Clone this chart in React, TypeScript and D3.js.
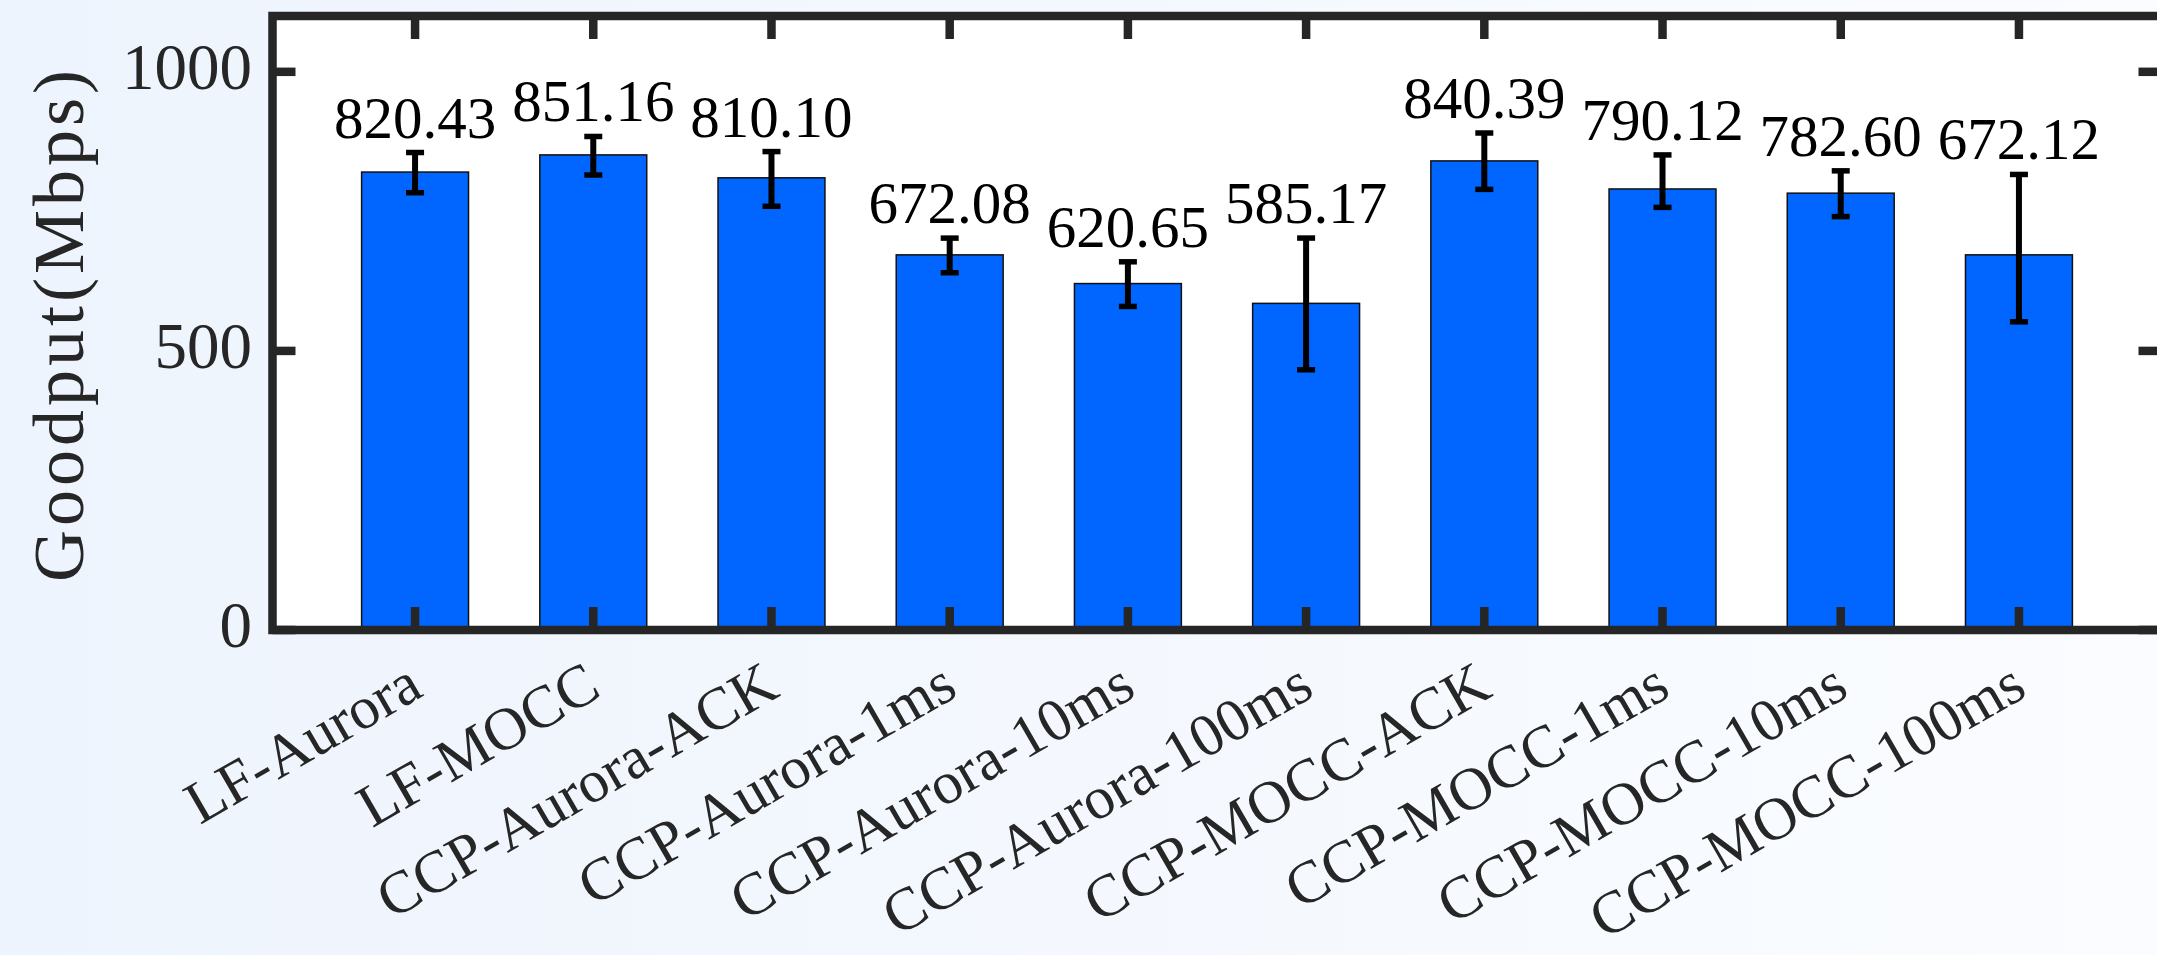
import React from 'react';
import { scaleLinear } from 'd3';

// bar categories, left to right
const categories = [
  'LF-Aurora',
  'LF-MOCC',
  'CCP-Aurora-ACK',
  'CCP-Aurora-1ms',
  'CCP-Aurora-10ms',
  'CCP-Aurora-100ms',
  'CCP-MOCC-ACK',
  'CCP-MOCC-1ms',
  'CCP-MOCC-10ms',
  'CCP-MOCC-100ms',
];
const goodput = [820.43, 851.16, 810.1, 672.08, 620.65, 585.17, 840.39, 790.12, 782.6, 672.12];
// error bar extents above / below the mean
const errUp = [35, 33, 47, 30, 39, 117, 50, 61, 40, 144];
const errDown = [37, 36, 51, 32, 41, 119, 51, 33, 42, 120];
const yTicks = [0, 500, 1000];
const yTickLabels = ['0', '500', '1000'];

const W = 2157;
const H = 955;
const frameColor = '#262626';
const barColor = '#0066ff';
const serifFont = "'Liberation Serif', 'DejaVu Serif', serif";
const serifStyle = { fontFamily: serifFont };

const xLabelSize = 60;
const xLabelY = 695;

// width of a label at the tick font, so long ones can be kept inside the page
let ctx: CanvasRenderingContext2D | null = null;
const textWidth = (s: string) => {
  if (!ctx) ctx = document.createElement('canvas').getContext('2d');
  if (!ctx) return 0;
  ctx.font = `${xLabelSize}px ${serifFont}`;
  return ctx.measureText(s).width;
};

const App = () => {
  const x = scaleLinear().domain([0.2, 10.8]).range([272.5, 2161.5]);
  const y = scaleLinear().domain([0, 1100]).range([630, 16]);
  const barW = x(1.6) - x(1);
  const capW = 18;
  const tickLen = 23;
  const x0 = x(0.2), x1 = x(10.8), y0 = y(0), y1 = y(1100);
  const maxLabelLen = (H - 6 - xLabelY) / Math.sin(Math.PI / 6);

  return (
    <svg width={W} height={H} style={{ position: 'absolute', left: 0, top: 0 }}>
      <defs>
        <linearGradient id="bg" x1="0" y1="0" x2="1" y2="0">
          <stop offset="0" stopColor="#eef4fd" />
          <stop offset="1" stopColor="#fafcff" />
        </linearGradient>
      </defs>
      <rect x={0} y={0} width={W} height={H} fill="url(#bg)" />

      {/* plot area */}
      <rect x={x0} y={y1} width={x1 - x0} height={y0 - y1} fill="#ffffff" />

      {/* bars */}
      {goodput.map((v, i) => (
        <rect
          key={'b' + i}
          x={x(i + 1) - barW / 2}
          y={y(v)}
          width={barW}
          height={y0 - y(v)}
          fill={barColor}
          stroke="#111"
          strokeWidth={1.5}
        />
      ))}

      {/* error bars */}
      {goodput.map((v, i) => {
        const cx = x(i + 1);
        const hi = y(v + errUp[i]);
        const lo = y(v - errDown[i]);
        return (
          <g key={'e' + i} stroke="#000">
            <line x1={cx} x2={cx} y1={hi} y2={lo} strokeWidth={6} />
            <line x1={cx - capW / 2} x2={cx + capW / 2} y1={hi} y2={hi} strokeWidth={5.5} />
            <line x1={cx - capW / 2} x2={cx + capW / 2} y1={lo} y2={lo} strokeWidth={5.5} />
          </g>
        );
      })}

      {/* value labels */}
      {goodput.map((v, i) => (
        <text
          key={'v' + i}
          x={x(i + 1)}
          y={y(v + errUp[i]) - 15}
          textAnchor="middle"
          style={serifStyle}
          fontSize={59}
          fill="#000"
        >
          {v.toFixed(2)}
        </text>
      ))}

      {/* frame */}
      <rect
        x={x0}
        y={y1}
        width={x1 - x0}
        height={y0 - y1}
        fill="none"
        stroke={frameColor}
        strokeWidth={8.5}
      />

      {/* x ticks top and bottom */}
      {categories.map((c, i) => (
        <g key={'xt' + i} stroke={frameColor} strokeWidth={8.5}>
          <line x1={x(i + 1)} x2={x(i + 1)} y1={y0} y2={y0 - tickLen} />
          <line x1={x(i + 1)} x2={x(i + 1)} y1={y1} y2={y1 + tickLen} />
        </g>
      ))}

      {/* y ticks left and right */}
      {yTicks.map((t, i) => (
        <g key={'yt' + i} stroke={frameColor} strokeWidth={8.5}>
          <line x1={x0} x2={x0 + tickLen} y1={y(t)} y2={y(t)} />
          <line x1={x1} x2={x1 - tickLen} y1={y(t)} y2={y(t)} />
        </g>
      ))}

      {/* y tick labels */}
      {yTicks.map((t, i) => (
        <text
          key={'yl' + i}
          x={252}
          y={y(t) + 17}
          textAnchor="end"
          style={serifStyle}
          fontSize={65}
          fill={frameColor}
        >
          {yTickLabels[i]}
        </text>
      ))}

      {/* x tick labels, rotated */}
      {categories.map((c, i) => {
        const w = textWidth(c);
        const fit = w > maxLabelLen ? { textLength: maxLabelLen, lengthAdjust: 'spacingAndGlyphs' } : {};
        return (
          <text
            key={'xl' + i}
            transform={`translate(${x(i + 1) + 10},${xLabelY}) rotate(-30)`}
            textAnchor="end"
            style={serifStyle}
            fontSize={xLabelSize}
            fill={frameColor}
            {...fit}
          >
            {c}
          </text>
        );
      })}

      {/* y axis title */}
      <text
        transform={`translate(83,${(y0 + y1) / 2 + 3}) rotate(-90)`}
        textAnchor="middle"
        style={serifStyle}
        fontSize={72}
        fill={frameColor}
        textLength={512}
        lengthAdjust="spacing"
      >
        Goodput(Mbps)
      </text>
    </svg>
  );
};

export default App;
